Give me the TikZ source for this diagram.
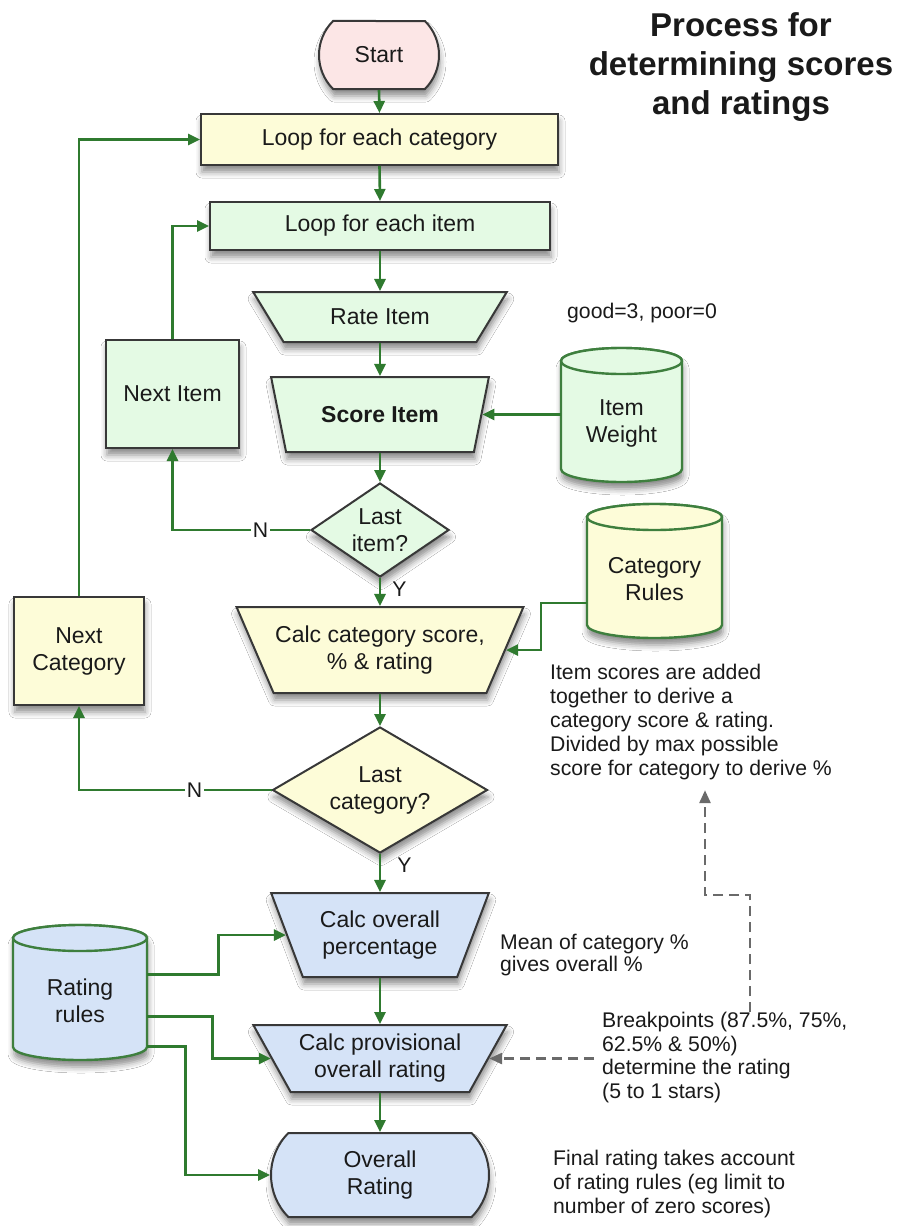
\documentclass[tikz,border=0pt]{standalone}
\usepackage{fontspec}
\setmainfont{Liberation Sans}
\usetikzlibrary{shapes.geometric,shapes.misc,arrows.meta,calc,shadows.blur}
\definecolor{pinkF}{HTML}{FCE6E6}
\definecolor{yelF}{HTML}{FDFCD8}
\definecolor{grnF}{HTML}{E4FAE4}
\definecolor{bluF}{HTML}{D5E3F7}
\definecolor{arrG}{HTML}{2F7A2F}
\definecolor{edgeC}{HTML}{383838}
\definecolor{drumE}{HTML}{3E7F3E}
\definecolor{dashG}{HTML}{6A6A6A}
\definecolor{txtC}{HTML}{1A1A1A}
\newcommand\nodefnt{\fontsize{23}{27}\selectfont}
\newcommand\notefnt{\fontsize{21.2}{24}\selectfont}
\newcommand\titlefnt{\fontsize{33}{39}\selectfont\bfseries}
\newcommand\drum[7]{%
  \pgfmathsetmacro\dL{#2-#4/2}%
  \pgfmathsetmacro\dR{#2+#4/2}%
  \pgfmathsetmacro\dT{#3-#5/2+13}%
  \pgfmathsetmacro\dB{#3+#5/2-13}%
  \pgfmathsetmacro\dX{#4/2}%
  \path[drumbody,fill=#6] (\dL,\dT) -- (\dL,\dB) arc[start angle=180,end angle=0,x radius=\dX,y radius=13] -- (\dR,\dT) arc[start angle=360,end angle=180,x radius=\dX,y radius=13] -- cycle;
  \path[drumtop,fill=#6] (#2,\dT) ellipse[x radius=\dX,y radius=13];
  \node[drumtxt,minimum width=#4] (#1) at (#2,#3+8) {#7};
}
\begin{document}
\begin{tikzpicture}[x=1pt,y=-1pt,
  shad/.style={blur shadow={shadow xshift=1pt,shadow yshift=-7pt,shadow blur radius=6pt,shadow opacity=45}},
  box/.style={draw=edgeC,line width=2pt,font=\nodefnt,align=center,inner sep=0pt,text=txtC,shad},
  rect/.style={box,rectangle},
  term/.style={box,rounded rectangle,rounded rectangle arc length=90},
  trap/.style={box,trapezium,shape border rotate=180,trapezium stretches=true,trapezium left angle=#1,trapezium right angle=#1},
  dia/.style={box,diamond},
  drumbody/.style={draw=drumE,line width=2.4pt,shad},
  drumtop/.style={draw=drumE,line width=2.4pt},
  drumtxt/.style={font=\nodefnt,align=center,inner sep=0pt,text=txtC},
  note/.style={font=\notefnt,align=left,inner sep=0pt,anchor=north west,text=txtC},
  arr/.style={draw=arrG,line width=2.6pt,-{Triangle[length=12pt,width=11pt]}},
  darr/.style={draw=dashG,line width=2.6pt,dash pattern=on 10pt off 6pt,-{Triangle[length=13pt,width=11pt]}},
  lbl/.style={fill=white,inner sep=2pt,font=\notefnt,text=txtC},
  ylbl/.style={inner sep=0pt,font=\notefnt,text=txtC,anchor=west}
]
\fill[white] (0,0) rectangle (898,1226);
\useasboundingbox (0,0) rectangle (898,1226);

% title
\node[font=\titlefnt,align=center,inner sep=0pt,text=txtC] (title) at (741,67) {Process for\\determining scores\\and ratings};

% main column
\node[term,fill=pinkF,minimum width=120,minimum height=68] (start) at (379,55) {Start};
\node[rect,fill=yelF,minimum width=357,minimum height=51] (lc) at (379.5,139.5) {Loop for each category};
\node[rect,fill=grnF,minimum width=340,minimum height=48] (lpi) at (380,226) {Loop for each item};
\node[trap=45.6,fill=grnF,minimum width=254,minimum height=50] (ri) at (380,317) {Rate Item};
\node[trap=60,fill=grnF,minimum width=218,minimum height=75,font=\nodefnt\bfseries] (si) at (380,414.5) {Score Item};
\node[dia,fill=grnF,minimum width=138,minimum height=94,shape aspect=1.47] (li) at (380,530) {Last\\item?};
\node[trap=53,fill=yelF,minimum width=288,minimum height=86] (cc) at (380,650) {Calc category score,\\\% \& rating};
\node[dia,fill=yelF,minimum width=215,minimum height=126,shape aspect=1.7] (lcat) at (380,790) {Last\\category?};
\node[trap=63,fill=bluF,minimum width=218,minimum height=84] (cop) at (380,935) {Calc overall\\percentage};
\node[trap=55,fill=bluF,minimum width=254,minimum height=67] (cpr) at (380,1058.5) {Calc provisional\\overall rating};
\node[term,fill=bluF,minimum width=218,minimum height=84] (ora) at (380,1175) {Overall\\Rating};

% side boxes
\node[rect,fill=grnF,minimum width=133,minimum height=108] (ni) at (172.5,394) {Next Item};
\node[rect,fill=yelF,minimum width=130,minimum height=108] (nc) at (79,651) {Next\\Category};

% data stores
\drum{iw}{621.5}{415}{121}{134}{grnF}{Item\\Weight}
\drum{cr}{654.5}{571}{135}{134}{yelF}{Category\\Rules}
\drum{rr}{80}{992.5}{134}{135}{bluF}{Rating\\rules}

% notes
\node[note] (gp) at (567,303) {good=3, poor=0};
\node[note] (isc) at (550,664) {Item scores are added\\together to derive a\\category score \& rating.\\Divided by max possible\\score for category to derive \%};
\node[note,font=\fontsize{21.2}{22}\selectfont] (mean) at (500,934) {Mean of category \%\\gives overall \%};
\node[note,font=\fontsize{21.2}{23.5}\selectfont] (bp) at (602,1012) {Breakpoints (87.5\%, 75\%,\\62.5\% \& 50\%)\\determine the rating\\(5 to 1 stars)};
\node[note] (fin) at (553,1150) {Final rating takes account\\of rating rules (eg limit to\\number of zero scores)};

% main flow arrows
\draw[arr] (start.south) -- (lc.north);
\draw[arr] (lc.south) -- (lpi.north);
\draw[arr] (lpi.south) -- (ri.90);
\draw[arr] (ri.270) -- (si.90);
\draw[arr] (si.270) -- (li.north);
\draw[arr] (li.south) -- node[ylbl,pos=0.4,xshift=11pt]{Y} (cc.90);
\draw[arr] (cc.270) -- (lcat.north);
\draw[arr] (lcat.south) -- node[ylbl,pos=0.3,xshift=16pt]{Y} (cop.90);
\draw[arr] (cop.270) -- (cpr.90);
\draw[arr] (cpr.270) -- (ora.north);

% loops
\draw[arr] (li.west) -| node[lbl,pos=0.18]{N} (ni.south);
\draw[arr] (ni.north) |- (lpi.west);
\draw[arr] (lcat.west) -| node[lbl,pos=0.2]{N} (nc.south);
\draw[arr] (nc.north) |- (lc.west);

% data inputs
\draw[arr] (iw.west |- si.0) -- (si.0);
\draw[arr] ($(cr.west)+(0,24)$) -- ++(-46,0) |- (cc.0);
\draw[arr] ($(rr.east)+(0,-26)$) -- ++(71,0) |- (cop.180);
\draw[arr] ($(rr.east)+(0,16)$) -- ++(65,0) |- (cpr.180);
\draw[arr] ($(rr.east)+(0,46)$) -- ++(38,0) |- (ora.west);

% dashed annotations
\coordinate (dA) at (750,895);
\coordinate (dB) at (705,895);
\draw[darr,shorten >=10pt] (bp.north -| dA) -- (dA) -- (dB) -- (isc.south -| dB);
\draw[darr,shorten <=8pt] (bp.west |- cpr.0) -- (cpr.0);
\end{tikzpicture}
\end{document}
